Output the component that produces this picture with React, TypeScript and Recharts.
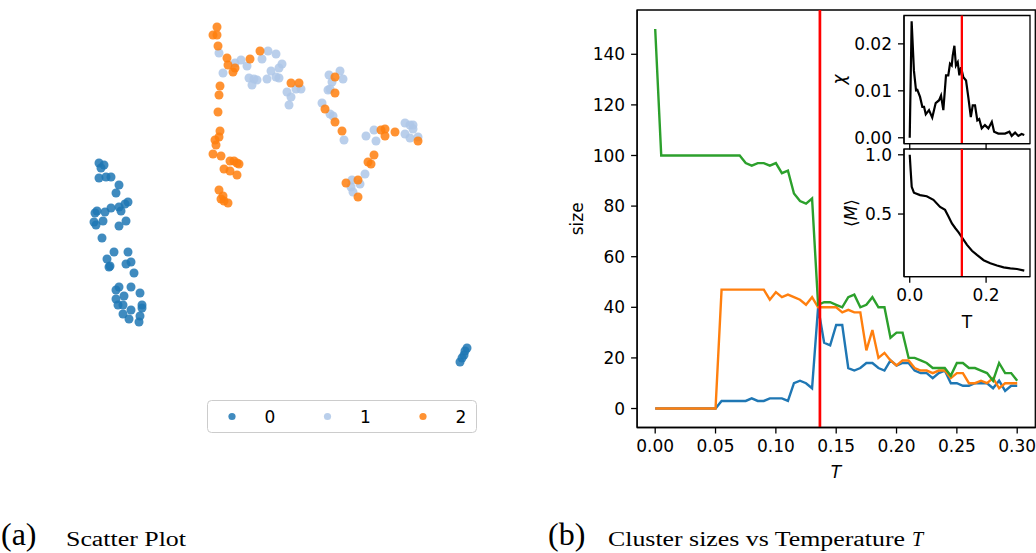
import React from 'react';
import {
  LineChart, Line, XAxis, YAxis, ReferenceLine, ReferenceArea,
  ScatterChart, Scatter, ZAxis,
} from 'recharts';

// ---------- Panel (a): scatter embedding ----------
const cluster0Points: number[][] = [
  [-15.1, 8.7], [-14.6, 8.5], [-14.9, 8.2], [-15.1, 7.2], [-14.4, 7.3], [-13.9, 7.3],
  [-13.1, 6.5], [-13.4, 5.7], [-12.2, 4.8], [-12.5, 4.6], [-13.1, 4.3], [-12.9, 3.9],
  [-13.9, 4.2], [-14.5, 3.8], [-15.3, 3.9], [-15.5, 3.7], [-15.6, 2.8], [-15.4, 2.5],
  [-14.7, 2.9], [-12.4, 2.9], [-13.1, 2.4], [-14.8, 1.2], [-13.6, -0.2], [-12.2, -0.2],
  [-14.3, -0.9], [-11.9, -1.2], [-12.4, -1.4], [-14.0, -1.6], [-14.1, -1.7], [-11.6, -2.3],
  [-13.1, -3.7], [-13.4, -4.0], [-11.9, -3.7], [-12.6, -4.6], [-11.0, -4.3], [-13.4, -4.9],
  [-13.2, -5.5], [-12.7, -5.5], [-10.8, -5.5], [-10.8, -5.8], [-11.9, -6.0], [-12.7, -6.4],
  [-11.0, -6.6], [-12.1, -6.9], [-11.1, -7.2],
  [21.7, -9.8], [21.5, -10.1], [21.4, -10.5], [21.2, -10.8], [21.0, -11.2],
];
const cluster1Points: number[][] = [
  [-3.1, 19.7], [-2.7, 17.7], [-1.5, 18.7], [-0.9, 19.0], [-0.3, 18.4], [1.2, 19.1],
  [1.8, 19.9], [2.6, 19.6], [3.2, 18.6], [2.9, 18.2], [2.1, 17.9], [-0.1, 17.2],
  [0.4, 17.1], [0.7, 17.0], [0.2, 16.5], [1.7, 17.1], [2.6, 17.3], [2.9, 17.2],
  [3.7, 15.8], [4.1, 15.3], [3.9, 14.5], [4.6, 16.1], [5.1, 16.1], [7.9, 17.5],
  [9.0, 17.9], [9.3, 17.1], [8.2, 16.8], [7.8, 16.0], [8.0, 16.1], [7.2, 14.7],
  [8.0, 13.6], [8.3, 13.4], [9.4, 11.0], [11.6, 11.4], [12.4, 12.0], [12.6, 10.9],
  [11.5, 7.6], [11.0, 6.6], [10.2, 7.0], [10.1, 6.3], [10.3, 5.8], [15.5, 12.7],
  [16.0, 12.5], [16.3, 12.5], [16.3, 12.1], [15.5, 11.6], [16.0, 11.2], [16.8, 11.3],
];
const cluster2Points: number[][] = [
  [-3.3, 22.3], [-3.7, 21.5], [-3.3, 21.5], [-3.2, 20.4], [-2.3, 19.2], [-2.2, 18.5],
  [-1.5, 18.2], [-1.7, 17.8], [0.0, 19.1], [1.0, 19.9], [-3.0, 16.4], [-3.1, 15.5],
  [-3.2, 13.8], [-3.0, 11.9], [-3.1, 11.3], [-3.5, 11.0], [-3.4, 10.5], [-3.7, 9.6],
  [-2.9, 9.4], [-2.0, 8.9], [-1.6, 8.9], [-1.3, 8.7], [-1.1, 8.6], [-2.6, 8.1],
  [-2.0, 7.9], [-1.3, 7.5], [-3.1, 6.0], [-2.7, 5.4], [-2.9, 5.1], [-2.6, 4.9],
  [-2.2, 4.7], [4.1, 16.7], [4.9, 16.7], [8.5, 17.3], [8.5, 15.7], [7.5, 14.1],
  [8.5, 12.8], [9.2, 11.9], [12.4, 9.5], [11.8, 8.8], [12.1, 8.6], [9.6, 6.7],
  [10.8, 7.0], [10.8, 5.3], [13.1, 12.0], [13.5, 12.1], [13.5, 11.4], [14.5, 11.8],
  [16.8, 10.9],
];
const clusterLabels = ['0', '1', '2'];
const clusterColors = ['#1f77b4', '#aec7e8', '#ff7f0e'];

// ---------- Panel (b): cluster sizes vs temperature ----------
const temperature = [
  0, 0.005, 0.01, 0.015, 0.02, 0.025, 0.03, 0.035, 0.04, 0.045, 0.05, 0.055, 0.06, 0.065,
  0.07, 0.075, 0.08, 0.085, 0.09, 0.095, 0.1, 0.105, 0.11, 0.115, 0.12, 0.125, 0.13, 0.135,
  0.14, 0.145, 0.15, 0.155, 0.16, 0.165, 0.17, 0.175, 0.18, 0.185, 0.19, 0.195, 0.2, 0.205,
  0.21, 0.215, 0.22, 0.225, 0.23, 0.235, 0.24, 0.245, 0.25, 0.255, 0.26, 0.265, 0.27, 0.275,
  0.28, 0.285, 0.29, 0.295, 0.3,
];
const sizeBlue = [
  0, 0, 0, 0, 0, 0, 0, 0, 0, 0, 0, 3, 3, 3, 3, 3, 4, 3, 3, 4, 4, 4, 3, 10, 11, 10, 8, 40,
  26, 25, 33, 33, 16, 15, 16, 18, 18, 16, 15, 19, 17, 18, 18, 15, 14, 14, 12, 14, 15, 10,
  10, 9, 9, 10, 10, 10, 8, 11, 7, 9, 9,
];
const sizeOrange = [
  0, 0, 0, 0, 0, 0, 0, 0, 0, 0, 0, 47, 47, 47, 47, 47, 47, 47, 47, 43, 46, 44, 45, 44, 43,
  41, 44, 40, 40, 40, 40, 38, 39, 38, 38, 23, 31, 20, 22, 19, 17, 19, 19, 16, 15, 15, 14,
  15, 15, 12, 14, 14, 10, 10, 11, 10, 12, 8, 10, 10, 10,
];
const sizeGreen = [
  150, 100, 100, 100, 100, 100, 100, 100, 100, 100, 100, 100, 100, 100, 100, 97, 96, 97, 97,
  96, 97, 93, 94, 85, 82, 81, 83, 41, 42, 42, 41, 40, 44, 45, 40, 41, 44, 40, 40, 28, 30,
  30, 20, 20, 19, 18, 16, 16, 16, 13, 18, 18, 16, 16, 15, 14, 11, 18, 14, 14, 11,
];
const sizeTicksX = [0, 0.05, 0.1, 0.15, 0.2, 0.25, 0.3];
const sizeTicksY = [0, 20, 40, 60, 80, 100, 120, 140];
const criticalT = 0.1365;

// ---------- Insets ----------
const chiT = [
  0, 0.005, 0.011, 0.0165, 0.02, 0.027, 0.033, 0.0375, 0.042, 0.0505, 0.059, 0.068, 0.077,
  0.082, 0.088, 0.095, 0.101, 0.1055, 0.11, 0.1126, 0.117, 0.121, 0.1257, 0.13, 0.1344,
  0.1404, 0.1475, 0.1535, 0.16, 0.165, 0.171, 0.177, 0.182, 0.1886, 0.197, 0.206, 0.215,
  0.221, 0.232, 0.2496, 0.261, 0.267, 0.276, 0.2845, 0.293, 0.3,
];
const chiValues = [
  0, 0.0248, 0.0143, 0.0101, 0.0102, 0.0087, 0.0066, 0.0066, 0.005, 0.0059, 0.0043, 0.0074,
  0.008, 0.009, 0.0059, 0.0133, 0.0133, 0.0158, 0.0154, 0.0175, 0.0196, 0.0154, 0.0161,
  0.0133, 0.015, 0.0129, 0.0122, 0.0086, 0.0044, 0.0069, 0.0069, 0.0037, 0.004, 0.002,
  0.0027, 0.002, 0.0034, 0.0013, 0.0009, 0.0009, 0.0013, 0.0004, 0.0011, 0.0004, 0.0008,
  0.0006,
];
const magT = [
  0, 0.0026, 0.0052, 0.011, 0.027, 0.0445, 0.062, 0.0795, 0.0925, 0.1015, 0.1105, 0.1195,
  0.128, 0.1385, 0.15, 0.163, 0.176, 0.1935, 0.211, 0.2285, 0.246, 0.2635, 0.281, 0.3,
];
const magValues = [
  1.0, 0.86, 0.73, 0.68, 0.66, 0.65, 0.62, 0.56, 0.535, 0.48, 0.42, 0.38, 0.345, 0.295,
  0.24, 0.19, 0.155, 0.11, 0.085, 0.065, 0.05, 0.042, 0.036, 0.022,
];
const chiTicks = [0, 0.01, 0.02];
const magTicks = [0.5, 1.0];
const insetTicksX = [0, 0.2];

// ---------- derived tables ----------
const sizeTable = temperature.map((T, i) => ({
  T, blue: sizeBlue[i], orange: sizeOrange[i], green: sizeGreen[i],
}));
const chiTable = chiT.map((T, i) => ({ T, chi: chiValues[i] }));
const magTable = magT.map((T, i) => ({ T, m: magValues[i] }));
const toPts = (arr: number[][]) => arr.map(([x, y]) => ({ x, y }));

const FONT = 'DejaVu Sans';
const tickStyle = { fill: '#000', fontSize: 17, fontFamily: FONT };
const lineStyle = { stroke: '#000', strokeWidth: 1.3 };
const X_DOMAIN: [number, number] = [-0.015, 0.315];

export default function App() {
  return (
    <div style={{ position: 'absolute', left: 0, top: 0, width: 1036, height: 553, overflow: 'hidden', background: '#fff' }}>
      {/* (a) scatter */}
      <div style={{ position: 'absolute', left: 0, top: 0 }}>
        <ScatterChart width={560} height={480} margin={{ top: 0, right: 0, bottom: 0, left: 0 }}>
          <XAxis type="number" dataKey="x" domain={[-25, 31]} hide />
          <YAxis type="number" dataKey="y" domain={[-23, 25]} hide />
          <ZAxis range={[40, 40]} />
          <Scatter data={toPts(cluster0Points)} fill={clusterColors[0]} fillOpacity={0.85} isAnimationActive={false} />
          <Scatter data={toPts(cluster1Points)} fill={clusterColors[1]} fillOpacity={0.85} isAnimationActive={false} />
          <Scatter data={toPts(cluster2Points)} fill={clusterColors[2]} fillOpacity={0.85} isAnimationActive={false} />
        </ScatterChart>
      </div>

      {/* (b) main line chart */}
      <div style={{ position: 'absolute', left: 540, top: 0 }}>
        <LineChart width={500} height={480} data={sizeTable} margin={{ top: 10, right: 4.7, bottom: 22.5, left: 37.1 }}>
          <XAxis dataKey="T" type="number" domain={X_DOMAIN} ticks={sizeTicksX} allowDataOverflow
            tickFormatter={(v: number) => v.toFixed(2)} height={30} tick={tickStyle}
            tickLine={lineStyle} axisLine={lineStyle} tickSize={6} tickMargin={6} interval={0} />
          <YAxis type="number" domain={[-7.5, 157.5]} ticks={sizeTicksY} allowDataOverflow width={60}
            tick={tickStyle} tickLine={lineStyle} axisLine={lineStyle} tickSize={6} tickMargin={6} interval={0} />
          <Line type="linear" dataKey="blue" stroke="#1f77b4" strokeWidth={2.4} dot={false} isAnimationActive={false} />
          <Line type="linear" dataKey="orange" stroke="#ff7f0e" strokeWidth={2.4} dot={false} isAnimationActive={false} />
          <Line type="linear" dataKey="green" stroke="#2ca02c" strokeWidth={2.4} dot={false} isAnimationActive={false} />
          <ReferenceLine x={criticalT} stroke="#ff0000" strokeWidth={2.7} />
          <ReferenceArea x1={X_DOMAIN[0]} x2={X_DOMAIN[1]} y1={-7.5} y2={157.5} fill="none" stroke="#000" strokeWidth={1.3} ifOverflow="visible" />
        </LineChart>
      </div>

      {/* inset chi */}
      <div style={{ position: 'absolute', left: 840, top: 0 }}>
        <LineChart width={200} height={150} data={chiTable} margin={{ top: 15.5, right: 10, bottom: 0.4, left: 4 }}>
          <XAxis dataKey="T" type="number" domain={X_DOMAIN} ticks={insetTicksX} allowDataOverflow
            tickFormatter={() => ''} height={6} tick={tickStyle} tickLine={lineStyle} axisLine={lineStyle} tickSize={6} interval={0} />
          <YAxis type="number" domain={[-0.00124, 0.02604]} ticks={chiTicks} allowDataOverflow width={60}
            tickFormatter={(v: number) => v.toFixed(2)} tick={tickStyle} tickLine={lineStyle} axisLine={lineStyle}
            tickSize={6} tickMargin={6} interval={0} />
          <Line type="linear" dataKey="chi" stroke="#000" strokeWidth={2.2} dot={false} isAnimationActive={false} />
          <ReferenceLine x={criticalT} stroke="#ff0000" strokeWidth={2.3} />
          <ReferenceArea x1={X_DOMAIN[0]} x2={X_DOMAIN[1]} y1={-0.00124} y2={0.02604} fill="none" stroke="#000" strokeWidth={1.3} ifOverflow="visible" />
        </LineChart>
      </div>

      {/* inset <M> */}
      <div style={{ position: 'absolute', left: 840, top: 140 }}>
        <LineChart width={200} height={200} data={magTable} margin={{ top: 9, right: 10, bottom: 33.3, left: 4 }}>
          <XAxis dataKey="T" type="number" domain={X_DOMAIN} ticks={insetTicksX} allowDataOverflow
            tickFormatter={(v: number) => v.toFixed(1)} height={30} tick={tickStyle} tickLine={lineStyle}
            axisLine={lineStyle} tickSize={6} tickMargin={6} interval={0} />
          <YAxis type="number" domain={[-0.029, 1.049]} ticks={magTicks} allowDataOverflow width={60}
            tickFormatter={(v: number) => v.toFixed(1)} tick={tickStyle} tickLine={lineStyle} axisLine={lineStyle}
            tickSize={6} tickMargin={6} interval={0} />
          <Line type="linear" dataKey="m" stroke="#000" strokeWidth={2.2} dot={false} isAnimationActive={false} />
          <ReferenceLine x={criticalT} stroke="#ff0000" strokeWidth={2.3} />
          <ReferenceArea x1={X_DOMAIN[0]} x2={X_DOMAIN[1]} y1={-0.029} y2={1.049} fill="none" stroke="#000" strokeWidth={1.3} ifOverflow="visible" />
        </LineChart>
      </div>

      {/* text overlay: labels, legend, captions */}
      <svg width={1036} height={553} style={{ position: 'absolute', left: 0, top: 0, pointerEvents: 'none' }}>
        <g fontFamily={FONT} fontSize={17} fill="#000">
          <text x={583} y={218.75} textAnchor="middle" transform="rotate(-90 583 218.75)">size</text>
          <text x={836} y={478} textAnchor="middle" fontStyle="italic">T</text>
          <text x={967} y={328} textAnchor="middle">T</text>
          <text x={845} y={79.5} textAnchor="middle" fontStyle="italic" transform="rotate(-90 845 79.5)">χ</text>
          <text x={857} y={213} textAnchor="middle" transform="rotate(-90 857 213)">⟨<tspan fontStyle="italic">M</tspan>⟩</text>
        </g>
        {/* scatter legend */}
        <rect x={207.5} y={400.5} width={269} height={32} rx={4} fill="#fff" fillOpacity={0.8} stroke="#cccccc" strokeWidth={1} />
        {clusterLabels.map((lab, i) => (
          <g key={lab}>
            <circle cx={232 + i * 95.5} cy={416.5} r={3.6} fill={clusterColors[i]} fillOpacity={0.85} />
            <text x={270 + i * 95.5} y={422.5} textAnchor="middle" fontFamily={FONT} fontSize={17} fill="#000">{lab}</text>
          </g>
        ))}
        {/* captions */}
        <g fontFamily="Liberation Serif" fill="#000">
          <text x={1} y={545} fontSize={32}>(a)</text>
          <text x={66} y={546} fontSize={20} textLength={120} lengthAdjust="spacingAndGlyphs">Scatter Plot</text>
          <text x={548} y={545} fontSize={32}>(b)</text>
          <text x={608} y={546} fontSize={20} textLength={297} lengthAdjust="spacingAndGlyphs">Cluster sizes vs Temperature</text>
          <text x={912} y={546} fontSize={20} fontStyle="italic">T</text>
        </g>
      </svg>
    </div>
  );
}
